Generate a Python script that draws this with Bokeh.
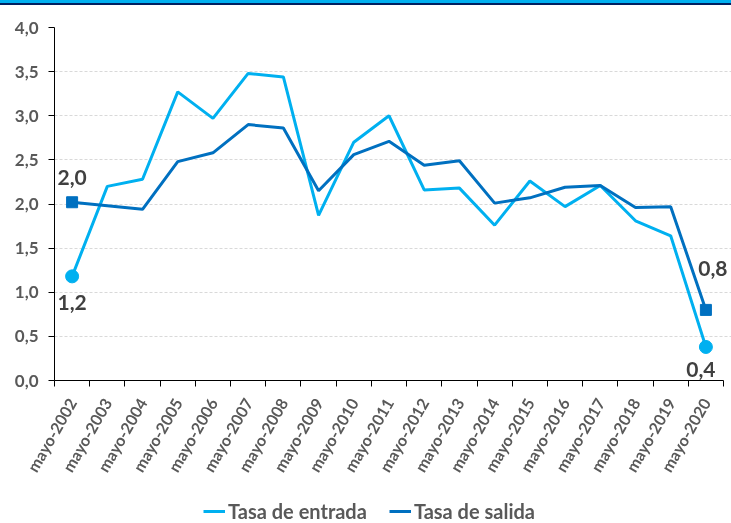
import math
from bokeh.plotting import figure
from bokeh.models import Range1d, FixedTicker, Legend, LegendItem, Div, Column
from bokeh.core.properties import value
from bokeh.embed import file_html
from bokeh.resources import INLINE

# ---- data ----
years = ["mayo-2002", "mayo-2003", "mayo-2004", "mayo-2005", "mayo-2006", "mayo-2007",
         "mayo-2008", "mayo-2009", "mayo-2010", "mayo-2011", "mayo-2012", "mayo-2013",
         "mayo-2014", "mayo-2015", "mayo-2016", "mayo-2017", "mayo-2018", "mayo-2019",
         "mayo-2020"]
tasa_entrada = [1.18, 2.20, 2.28, 3.27, 2.97, 3.48, 3.44, 1.87, 2.70, 3.00, 2.16, 2.18,
                1.76, 2.26, 1.97, 2.21, 1.81, 1.64, 0.38]
tasa_salida = [2.02, 1.98, 1.94, 2.48, 2.58, 2.90, 2.86, 2.15, 2.56, 2.71, 2.44, 2.49,
               2.01, 2.07, 2.19, 2.21, 1.96, 1.97, 0.80]
y_ticks = [0.0, 0.5, 1.0, 1.5, 2.0, 2.5, 3.0, 3.5, 4.0]
series_names = ["Tasa de entrada", "Tasa de salida"]

C_IN = "#00B0F0"
C_OUT = "#0070C0"
FONT = "Lato"
W = 731

def fmt(v):
    return f"{v:.1f}".replace(".", ",")

n = len(years)
xs = [i + 0.5 for i in range(n)]

# header stripes
stripe1 = Div(text="", width=W, height=3, margin=0,
              styles={"background-color": C_IN})
stripe2 = Div(text="", width=W, height=2, margin=0,
              styles={"background-color": "#002060"})

# frame spans 54..731 so end labels are not clipped; axis/grid bounded to categories
x_end = n * (W - 54) / (723 - 54)
p = figure(width=W, height=495, output_backend="svg", toolbar_location=None,
           x_range=Range1d(0, x_end), y_range=Range1d(0, 4),
           min_border_left=54, min_border_right=0, min_border_top=22,
           min_border_bottom=120, margin=0)
p.outline_line_color = None
p.background_fill_color = "white"
p.border_fill_color = "white"

# grid
p.xgrid.visible = False
p.ygrid.grid_line_color = "#D9D9D9"
p.ygrid.grid_line_dash = "3 2"
p.ygrid.grid_line_width = 1
p.ygrid.bounds = (0, n)

# y axis
p.yaxis.ticker = FixedTicker(ticks=y_ticks)
p.yaxis.major_label_overrides = {t: fmt(t) for t in y_ticks}
p.yaxis.axis_line_color = "black"
p.yaxis.major_tick_out = 6
p.yaxis.major_tick_in = 0
p.yaxis.minor_tick_line_color = None
p.yaxis.major_label_text_font = FONT
p.yaxis.major_label_text_font_style = "bold"
p.yaxis.major_label_text_font_size = "17px"
p.yaxis.major_label_text_color = "#595959"
p.yaxis.major_label_standoff = 10

# x axis
p.xaxis.bounds = (0, n)
p.xaxis.ticker = FixedTicker(ticks=xs, minor_ticks=list(range(n + 1)))
p.xaxis.major_label_overrides = {x: lab for x, lab in zip(xs, years)}
p.xaxis.axis_line_color = "black"
p.xaxis.major_tick_out = 0
p.xaxis.major_tick_in = 0
p.xaxis.minor_tick_out = 6
p.xaxis.minor_tick_in = 0
p.xaxis.minor_tick_line_color = "black"
p.xaxis.major_label_orientation = math.radians(60)
p.xaxis.major_label_text_font = FONT
p.xaxis.major_label_text_font_style = "bold"
p.xaxis.major_label_text_font_size = "16px"
p.xaxis.major_label_text_color = "#595959"
p.xaxis.major_label_standoff = 13

# lines
p.line(xs, tasa_entrada, line_color=C_IN, line_width=3)
p.line(xs, tasa_salida, line_color=C_OUT, line_width=3)

# end markers
ends = [0, n - 1]
p.scatter([xs[i] for i in ends], [tasa_entrada[i] for i in ends], marker="circle",
          size=13, fill_color=C_IN, line_color=C_IN)
p.scatter([xs[i] for i in ends], [tasa_salida[i] for i in ends], marker="square",
          size=11, fill_color=C_OUT, line_color=C_OUT)

# end labels
lab_style = dict(text_font=value(FONT), text_font_style="bold", text_font_size="21px",
                 text_color="#404040", text_align="center", text_baseline="middle")
p.text(x=[xs[0]], y=[tasa_entrada[0]], text=[fmt(tasa_entrada[0])],
       x_offset=0, y_offset=26, **lab_style)
p.text(x=[xs[0]], y=[tasa_salida[0]], text=[fmt(tasa_salida[0])],
       x_offset=0, y_offset=-25, **lab_style)
p.text(x=[xs[-1]], y=[tasa_salida[-1]], text=[fmt(tasa_salida[-1])],
       x_offset=7, y_offset=-41, **lab_style)
p.text(x=[xs[-1]], y=[tasa_entrada[-1]], text=[fmt(tasa_entrada[-1])],
       x_offset=-5, y_offset=23, **lab_style)

# legend strip: separate small figure; the proxy lines lie outside its view
lg = figure(width=W, height=23, output_backend="svg", toolbar_location=None,
            x_range=Range1d(0, 1), y_range=Range1d(100, 101),
            x_axis_location=None, y_axis_location=None,
            min_border=0, margin=0)
lg.grid.visible = False
lg.outline_line_color = None
lg.border_fill_color = "white"
r_in = lg.line(xs, tasa_entrada, line_color=C_IN, line_width=3)
r_out = lg.line(xs, tasa_salida, line_color=C_OUT, line_width=3)
legend = Legend(items=[LegendItem(label=series_names[0], renderers=[r_in]),
                       LegendItem(label=series_names[1], renderers=[r_out])],
                orientation="horizontal", location=(149, 0),
                glyph_width=22, glyph_height=20, label_standoff=3, spacing=22,
                padding=0, margin=0, border_line_color=None,
                background_fill_alpha=0,
                label_text_font=FONT, label_text_font_style="bold",
                label_text_font_size="20px", label_text_color="#595959")
lg.add_layout(legend, "center")

layout = Column(stripe1, stripe2, p, lg, spacing=0,
                styles={"position": "fixed", "top": "0px", "left": "0px"})

open("out.html", "w").write(file_html(layout, INLINE))
